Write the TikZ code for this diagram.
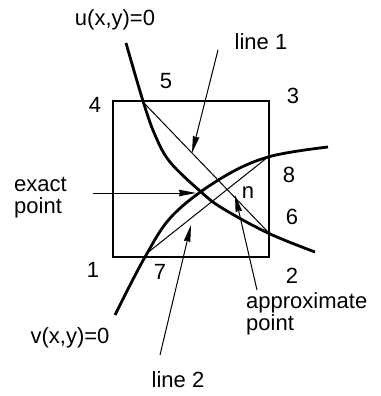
\documentclass[tikz,border=0pt]{standalone}
\usepackage{fontspec}
\setmainfont{Liberation Sans}
\usetikzlibrary{arrows.meta}
\begin{document}
\begin{tikzpicture}[x=1pt,y=-1pt,
  lbl/.style={inner sep=0pt,font=\fontsize{22}{22}\selectfont},
  curve/.style={line width=2.8pt},
  thinline/.style={line width=1pt},
  pointer/.style={line width=1pt,-{Stealth[length=17pt,width=6.5pt,inset=1pt]}}]
\useasboundingbox (0,0) rectangle (380,396);
% box
\coordinate (c1) at (113,257);
\coordinate (c3) at (269,101);
\draw[line width=2.4pt] (c1) rectangle (c3);
% curves
\draw[curve] plot[smooth,tension=0.6] coordinates {(126,43) (143,101) (155,135) (170,162) (200,191) (222,208) (268,233) (315,252)};
\draw[curve] plot[smooth,tension=0.6] coordinates {(115,315) (145,257) (173,215) (220,179) (268,157) (328,147)};
% secant lines
\coordinate (p5) at (143,102);
\coordinate (p6) at (268,232);
\coordinate (p7) at (146,254);
\coordinate (p8) at (268,157);
\draw[thinline] (p5) -- (p6);
\draw[thinline] (p7) -- (p8);
% labels
\node[lbl] (u) at (115,20) {u(x,y)=0};
\node[lbl] (l1) at (261,42) {line 1};
\node[lbl] (n5) at (166,81) {5};
\node[lbl] (n4) at (95,105) {4};
\node[lbl] (n3) at (293,96) {3};
\node[lbl] (n8) at (289,175) {8};
\node[lbl] (n6) at (292,217) {6};
\node[lbl] (nn) at (248,193) {n};
\node[lbl,anchor=west,align=left] (ex) at (14,198) {exact\\point};
\node[lbl] (n1) at (93,270) {1};
\node[lbl] (n7) at (160,272) {7};
\node[lbl] (n2) at (292,276) {2};
\node[lbl,anchor=west,align=left] (ap) at (246,314) {approximate\\point};
\node[lbl] (v) at (70,338) {v(x,y)=0};
\node[lbl] (l2) at (178,380) {line 2};
% pointers
\coordinate (t1) at (218,50);
\coordinate (h1) at (192,153);
\coordinate (te) at (93,193);
\coordinate (he) at (196,193);
\coordinate (t2) at (160,355);
\coordinate (h2) at (191,225);
\coordinate (ta) at (257,290);
\coordinate (ha) at (235,195);
\draw[pointer] (t1) -- (h1);
\draw[pointer] (te) -- (he);
\draw[pointer] (t2) -- (h2);
\draw[pointer] (ta) -- (ha);
\end{tikzpicture}
\end{document}
